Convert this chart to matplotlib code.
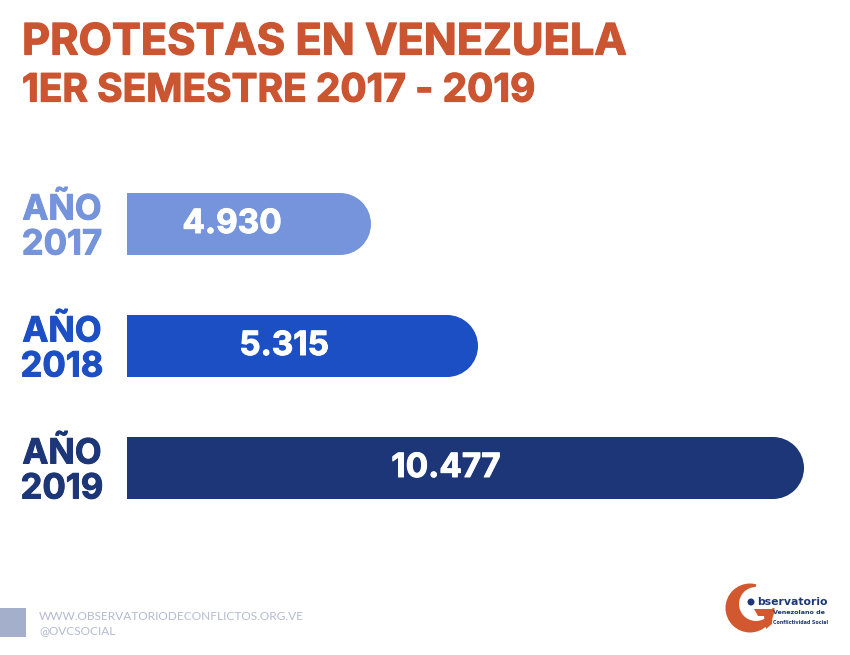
import matplotlib
matplotlib.use("Agg")
import matplotlib.pyplot as plt
import matplotlib.patheffects as pe
from matplotlib.patches import Circle, Rectangle, Wedge, Polygon

# datos
anios = ["AÑO\n2017", "AÑO\n2018", "AÑO\n2019"]
etiquetas = ["4.930", "5.315", "10.477"]
# el largo de las barras del original no es proporcional a los valores
largos = [244, 351, 677]
colores = ["#7594DC", "#1C4FC4", "#1C3677"]

naranja = "#CB5431"
fuente = "Inter"

fig = plt.figure(figsize=(8.5, 6.55), dpi=100, facecolor="white")
ax = fig.add_axes([0, 0, 1, 1])
ax.set_xlim(0, 850)
ax.set_ylim(655, 0)
ax.axis("off")


def grueso(color, lw=0.9):
    # la fuente original es mas pesada que Inter bold
    return [pe.withStroke(linewidth=lw, foreground=color)]


# titulos
ax.text(22, 43, "PROTESTAS EN VENEZUELA", color=naranja, fontsize=31.2, fontweight="bold",
        family=fuente, va="center", ha="left", path_effects=grueso(naranja))
ax.text(22, 91, "1ER SEMESTRE 2017 - 2019", color=naranja, fontsize=28, fontweight="bold",
        family=fuente, va="center", ha="left", path_effects=grueso(naranja))

# barras
x0 = 127
alto = 62
ys = [224, 346, 468]
cx_texto = [232, 284, 446]
bars = ax.barh(ys, [l - alto / 2 for l in largos], left=x0, height=alto, color=colores)
for y, l, c, anio, et, cx in zip(ys, largos, colores, anios, etiquetas, cx_texto):
    ax.add_patch(Circle((x0 + l - alto / 2, y), alto / 2, color=c, lw=0))
    ax.text(cx, y, et, color="white", fontsize=24, fontweight="bold", family=fuente,
            ha="center", va="center", path_effects=grueso("white", 0.7))
    ax.text(62, y + 4, anio, color=c, fontsize=25, fontweight="bold", family=fuente,
            ha="center", va="center", linespacing=1.12, path_effects=grueso(c, 0.7))

# pie
ax.add_patch(Rectangle((0, 608), 26, 29, color="#A4AFCB", lw=0))
ax.text(39, 616, "WWW.OBSERVATORIODECONFLICTOS.ORG.VE", color="#B4BBCF", fontsize=8.6,
        family="Lato", va="center", ha="left")
ax.text(39, 631, "@OVCSOCIAL", color="#B4BBCF", fontsize=8.6, family="Lato", va="center", ha="left")

# logo
logo_o = "#D2592F"
logo_b = "#1C3677"
ax.add_patch(Circle((750, 608), 24.5, color=logo_o, lw=0))
ax.add_patch(Circle((756, 604), 17, color="white", lw=0))
ax.add_patch(Wedge((750, 608), 27, 285, 360, color="white", lw=0))
ax.add_patch(Polygon([(754, 609), (773, 609), (772, 624), (766, 629), (764, 616), (758, 616)],
                     color=logo_o, lw=0))
ax.add_patch(Circle((751, 602), 3.5, color=logo_b, lw=0))
ax.text(757, 602, "bservatorio", color=logo_b, fontsize=7.8, fontweight="bold",
        family="DejaVu Sans", va="center", ha="left")
ax.text(773, 612, "Venezolano de", color=logo_b, fontsize=4.6, fontweight="bold",
        family="DejaVu Sans", va="center", ha="left")
ax.text(773, 622, "Conflictividad Social", color=logo_b, fontsize=3.4, fontweight="bold",
        family="DejaVu Sans", va="center", ha="left")

fig.savefig("out.png", dpi=100)
